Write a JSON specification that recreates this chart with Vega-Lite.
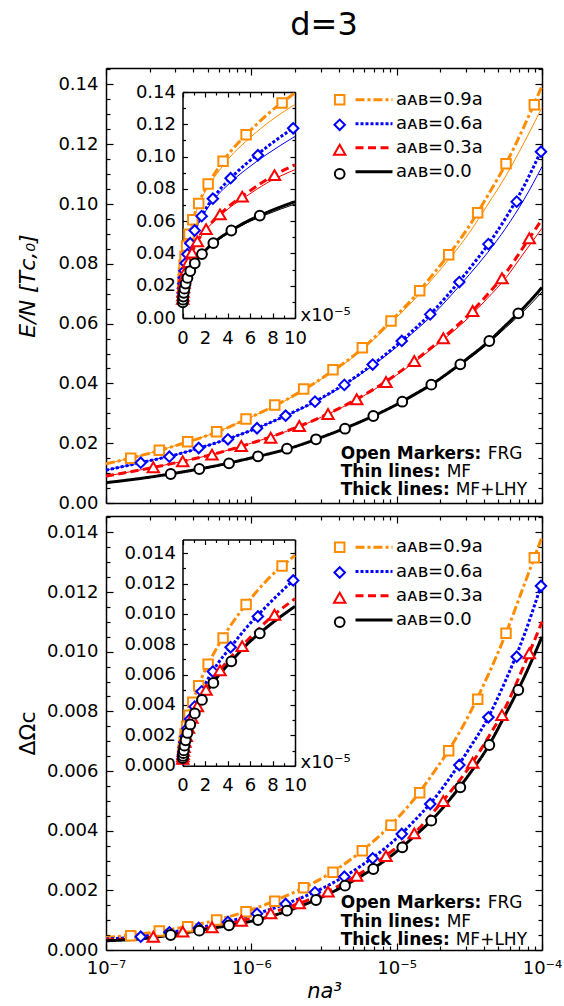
{
"$schema": "https://vega.github.io/schema/vega-lite/v6.json",
"width": 436, "height": 882,
"autosize": {"type": "none"},
"padding": {"left": 106, "top": 68, "right": 22, "bottom": 56},
"background": "white",
"title": {"text": "d=3", "fontSize": 32, "font": "DejaVu Sans", "fontWeight": "normal", "color": "black", "anchor": "middle", "frame": "group", "baseline": "alphabetic", "offset": -7},
"config": {
  "view": {"stroke": null},
  "font": "DejaVu Sans",
  "axis": {"domainColor": "black", "domainWidth": 1.5, "tickColor": "black", "tickWidth": 1.2, "labelFont": "DejaVu Sans", "labelFontSize": 18, "labelColor": "black", "grid": false, "labelFlush": false, "labelOverlap": false, "labelBound": false, "titleColor": "black", "titleFont": "DejaVu Sans", "titleFontWeight": "normal"},
  "legend": {"labelFont": "DejaVu Sans", "labelColor": "black"}
},
"resolve": {
  "scale": {"x": "independent", "y": "independent", "color": "independent", "shape": "independent", "strokeDash": "independent", "size": "independent"},
  "axis": {"x": "independent", "y": "independent"},
  "legend": {"color": "independent", "shape": "independent", "strokeDash": "independent", "size": "independent"}
},
"datasets": {
  "thickE": [
    {"x": 1e-7, "a09": 0.0131, "a06": 0.0110, "a03": 0.0090, "a00": 0.0068},
    {"x": 1.778e-7, "a09": 0.0160, "a06": 0.0136, "a03": 0.0112, "a00": 0.0083},
    {"x": 3.162e-7, "a09": 0.0195, "a06": 0.0164, "a03": 0.01367, "a00": 0.01016},
    {"x": 5.623e-7, "a09": 0.0235, "a06": 0.0200, "a03": 0.01646, "a00": 0.01238},
    {"x": 1e-6, "a09": 0.0288, "a06": 0.0243, "a03": 0.02001, "a00": 0.01508},
    {"x": 1.778e-6, "a09": 0.0348, "a06": 0.0295, "a03": 0.02416, "a00": 0.0181},
    {"x": 3.162e-6, "a09": 0.0422, "a06": 0.0356, "a03": 0.02921, "a00": 0.02229},
    {"x": 5.623e-6, "a09": 0.0511, "a06": 0.0433, "a03": 0.03541, "a00": 0.02715},
    {"x": 1e-5, "a09": 0.0628, "a06": 0.0528, "a03": 0.04312, "a00": 0.03295},
    {"x": 1.334e-5, "a09": 0.0692, "a06": 0.0583, "a03": 0.04764, "a00": 0.03636},
    {"x": 1.778e-5, "a09": 0.0765, "a06": 0.0641, "a03": 0.0524, "a00": 0.03997},
    {"x": 2.371e-5, "a09": 0.0841, "a06": 0.0709, "a03": 0.05753, "a00": 0.04423},
    {"x": 3.162e-5, "a09": 0.0927, "a06": 0.0783, "a03": 0.06317, "a00": 0.04882},
    {"x": 4.217e-5, "a09": 0.1027, "a06": 0.0862, "a03": 0.06975, "a00": 0.05371},
    {"x": 5.623e-5, "a09": 0.1133, "a06": 0.0953, "a03": 0.07693, "a00": 0.05941},
    {"x": 7.499e-5, "a09": 0.1258, "a06": 0.1059, "a03": 0.08582, "a00": 0.06536},
    {"x": 1e-4, "a09": 0.1395, "a06": 0.1185, "a03": 0.0949, "a00": 0.0721}
  ],
  "thinE": [
    {"x": 1e-7, "a09": 0.0131, "a06": 0.0110, "a03": 0.0090, "a00": 0.0068},
    {"x": 1.778e-7, "a09": 0.0160, "a06": 0.0136, "a03": 0.0112, "a00": 0.0083},
    {"x": 3.162e-7, "a09": 0.0195, "a06": 0.0164, "a03": 0.01367, "a00": 0.01016},
    {"x": 5.623e-7, "a09": 0.0235, "a06": 0.0200, "a03": 0.01646, "a00": 0.01238},
    {"x": 1e-6, "a09": 0.0288, "a06": 0.0243, "a03": 0.02001, "a00": 0.01508},
    {"x": 1.778e-6, "a09": 0.0347, "a06": 0.0294, "a03": 0.0241, "a00": 0.0181},
    {"x": 3.162e-6, "a09": 0.0420, "a06": 0.0354, "a03": 0.0291, "a00": 0.0222},
    {"x": 5.623e-6, "a09": 0.0507, "a06": 0.0430, "a03": 0.0352, "a00": 0.0270},
    {"x": 1e-5, "a09": 0.0621, "a06": 0.0522, "a03": 0.0428, "a00": 0.0328},
    {"x": 1.334e-5, "a09": 0.0682, "a06": 0.0575, "a03": 0.0472, "a00": 0.0361},
    {"x": 1.778e-5, "a09": 0.0752, "a06": 0.0630, "a03": 0.0519, "a00": 0.0397},
    {"x": 2.371e-5, "a09": 0.0824, "a06": 0.0695, "a03": 0.0568, "a00": 0.0439},
    {"x": 3.162e-5, "a09": 0.0904, "a06": 0.0764, "a03": 0.0622, "a00": 0.0483},
    {"x": 4.217e-5, "a09": 0.0997, "a06": 0.0837, "a03": 0.0685, "a00": 0.0531},
    {"x": 5.623e-5, "a09": 0.1093, "a06": 0.0919, "a03": 0.0752, "a00": 0.0586},
    {"x": 7.499e-5, "a09": 0.1204, "a06": 0.1014, "a03": 0.0836, "a00": 0.0642},
    {"x": 1e-4, "a09": 0.1323, "a06": 0.1125, "a03": 0.0919, "a00": 0.0706}
  ],
  "thickO": [
    {"x": 1e-7, "a09": 0.00042, "a06": 0.00037, "a03": 0.00034, "a00": 0.00031},
    {"x": 1.778e-7, "a09": 0.000543, "a06": 0.000454, "a03": 0.00040, "a00": 0.00038},
    {"x": 3.162e-7, "a09": 0.000735, "a06": 0.000639, "a03": 0.000591, "a00": 0.000543},
    {"x": 5.623e-7, "a09": 0.000993, "a06": 0.000850, "a03": 0.000784, "a00": 0.000743},
    {"x": 1e-6, "a09": 0.001349, "a06": 0.001163, "a03": 0.001067, "a00": 0.000965},
    {"x": 1.778e-6, "a09": 0.001837, "a06": 0.001569, "a03": 0.001429, "a00": 0.001311},
    {"x": 3.162e-6, "a09": 0.002447, "a06": 0.002095, "a03": 0.001901, "a00": 0.001808},
    {"x": 5.623e-6, "a09": 0.003279, "a06": 0.002805, "a03": 0.002573, "a00": 0.002460},
    {"x": 1e-5, "a09": 0.004396, "a06": 0.003746, "a03": 0.003438, "a00": 0.003302},
    {"x": 1.334e-5, "a09": 0.005088, "a06": 0.004351, "a03": 0.003932, "a00": 0.003831},
    {"x": 1.778e-5, "a09": 0.005920, "a06": 0.005019, "a03": 0.004611, "a00": 0.004400},
    {"x": 2.371e-5, "a09": 0.006829, "a06": 0.005836, "a03": 0.005338, "a00": 0.005101},
    {"x": 3.162e-5, "a09": 0.007907, "a06": 0.006754, "a03": 0.006131, "a00": 0.005896},
    {"x": 4.217e-5, "a09": 0.009171, "a06": 0.007753, "a03": 0.007087, "a00": 0.006785},
    {"x": 5.623e-5, "a09": 0.010591, "a06": 0.009041, "a03": 0.008152, "a00": 0.007913},
    {"x": 7.499e-5, "a09": 0.012212, "a06": 0.010527, "a03": 0.009527, "a00": 0.00912},
    {"x": 1e-4, "a09": 0.01385, "a06": 0.01232, "a03": 0.0110, "a00": 0.0105}
  ],
  "marks": [
    {"s": "a09", "x": 1.479e-7, "E": 0.01495, "O": 0.000479},
    {"s": "a09", "x": 2.328e-7, "E": 0.01763, "O": 0.000637},
    {"s": "a09", "x": 3.648e-7, "E": 0.0205, "O": 0.000781},
    {"s": "a09", "x": 5.775e-7, "E": 0.02385, "O": 0.001006},
    {"s": "a09", "x": 9.19e-7, "E": 0.0281, "O": 0.001284},
    {"s": "a09", "x": 1.449e-6, "E": 0.0328, "O": 0.001633},
    {"s": "a09", "x": 2.291e-6, "E": 0.0381, "O": 0.002089},
    {"s": "a09", "x": 3.648e-6, "E": 0.0446, "O": 0.002605},
    {"s": "a09", "x": 5.803e-6, "E": 0.0519, "O": 0.003329},
    {"s": "a09", "x": 9.141e-6, "E": 0.0609, "O": 0.004181},
    {"s": "a09", "x": 1.44e-5, "E": 0.071, "O": 0.005274},
    {"s": "a09", "x": 2.28e-5, "E": 0.083, "O": 0.006682},
    {"s": "a09", "x": 3.61e-5, "E": 0.0971, "O": 0.008405},
    {"s": "a09", "x": 5.654e-5, "E": 0.1135, "O": 0.010618},
    {"s": "a09", "x": 8.852e-5, "E": 0.1332, "O": 0.013152},
    {"s": "a06", "x": 1.734e-7, "E": 0.01348, "O": 0.000446},
    {"s": "a06", "x": 2.729e-7, "E": 0.01549, "O": 0.000593},
    {"s": "a06", "x": 4.345e-7, "E": 0.0184, "O": 0.000738},
    {"s": "a06", "x": 6.902e-7, "E": 0.0213, "O": 0.000939},
    {"s": "a06", "x": 1.094e-6, "E": 0.025, "O": 0.001217},
    {"s": "a06", "x": 1.722e-6, "E": 0.0292, "O": 0.001542},
    {"s": "a06", "x": 2.742e-6, "E": 0.0339, "O": 0.001934},
    {"s": "a06", "x": 4.365e-6, "E": 0.0395, "O": 0.002457},
    {"s": "a06", "x": 6.839e-6, "E": 0.0463, "O": 0.003074},
    {"s": "a06", "x": 1.084e-5, "E": 0.0542, "O": 0.003889},
    {"s": "a06", "x": 1.702e-5, "E": 0.0631, "O": 0.004895},
    {"s": "a06", "x": 2.698e-5, "E": 0.0739, "O": 0.006202},
    {"s": "a06", "x": 4.276e-5, "E": 0.0866, "O": 0.007801},
    {"s": "a06", "x": 6.699e-5, "E": 0.1008, "O": 0.009833},
    {"s": "a06", "x": 9.84e-5, "E": 0.1175, "O": 0.012203},
    {"s": "a03", "x": 2.116e-7, "E": 0.01194, "O": 0.000446},
    {"s": "a03", "x": 3.372e-7, "E": 0.01395, "O": 0.000614},
    {"s": "a03", "x": 5.362e-7, "E": 0.01616, "O": 0.000761},
    {"s": "a03", "x": 8.531e-7, "E": 0.01907, "O": 0.000982},
    {"s": "a03", "x": 1.359e-6, "E": 0.02184, "O": 0.00123},
    {"s": "a03", "x": 2.138e-6, "E": 0.02576, "O": 0.001566},
    {"s": "a03", "x": 3.37e-6, "E": 0.02977, "O": 0.001955},
    {"s": "a03", "x": 5.309e-6, "E": 0.03469, "O": 0.002491},
    {"s": "a03", "x": 8.445e-6, "E": 0.04047, "O": 0.003151},
    {"s": "a03", "x": 1.322e-5, "E": 0.0475, "O": 0.003912},
    {"s": "a03", "x": 2.094e-5, "E": 0.05509, "O": 0.004995},
    {"s": "a03", "x": 3.335e-5, "E": 0.06422, "O": 0.006279},
    {"s": "a03", "x": 5.305e-5, "E": 0.07516, "O": 0.007879},
    {"s": "a03", "x": 8.178e-5, "E": 0.08854, "O": 0.009947},
    {"s": "a00", "x": 2.787e-7, "E": 0.0097, "O": 0.000503},
    {"s": "a00", "x": 4.385e-7, "E": 0.01137, "O": 0.000647},
    {"s": "a00", "x": 7.019e-7, "E": 0.01328, "O": 0.000828},
    {"s": "a00", "x": 1.111e-6, "E": 0.01562, "O": 0.001006},
    {"s": "a00", "x": 1.759e-6, "E": 0.01816, "O": 0.001318},
    {"s": "a00", "x": 2.786e-6, "E": 0.02131, "O": 0.001676},
    {"s": "a00", "x": 4.41e-6, "E": 0.02485, "O": 0.002156},
    {"s": "a00", "x": 6.907e-6, "E": 0.0291, "O": 0.002716},
    {"s": "a00", "x": 1.093e-5, "E": 0.03388, "O": 0.003443},
    {"s": "a00", "x": 1.731e-5, "E": 0.03957, "O": 0.004335},
    {"s": "a00", "x": 2.741e-5, "E": 0.04639, "O": 0.005455},
    {"s": "a00", "x": 4.34e-5, "E": 0.05419, "O": 0.006873},
    {"s": "a00", "x": 6.871e-5, "E": 0.06345, "O": 0.008717}
  ]
},
"layer": [
  {
    "data": {"name": "thinE"},
    "transform": [{"fold": ["a09", "a06", "a03", "a00"], "as": ["s", "v"]}],
    "mark": {"type": "line", "strokeWidth": 1, "interpolate": "monotone"},
    "encoding": {
      "x": {"field": "x", "type": "quantitative", "scale": {"type": "log", "domain": [1e-7, 1e-4], "range": [0, 436], "nice": false},
        "axis": {"orient": "bottom", "offset": -447, "labels": false, "title": null,
          "values": [1e-7,2e-7,3e-7,4e-7,5e-7,6e-7,7e-7,8e-7,9e-7,1e-6,2e-6,3e-6,4e-6,5e-6,6e-6,7e-6,8e-6,9e-6,1e-5,2e-5,3e-5,4e-5,5e-5,6e-5,7e-5,8e-5,9e-5,1e-4],
          "tickSize": {"condition": {"test": "abs(log(datum.value)/LN10 - round(log(datum.value)/LN10)) < 0.01", "value": -7}, "value": -4}}},
      "y": {"field": "v", "type": "quantitative", "scale": {"domain": [0, 0.1455], "range": [435, 0], "nice": false, "zero": false},
        "axis": {"orient": "left", "title": "E/N  [Tᴄ,₀]", "titleFontSize": 22, "titleFontStyle": "italic", "titlePadding": 18, "labelPadding": 15,
          "values": [0,0.005,0.01,0.015,0.02,0.025,0.03,0.035,0.04,0.045,0.05,0.055,0.06,0.065,0.07,0.075,0.08,0.085,0.09,0.095,0.1,0.105,0.11,0.115,0.12,0.125,0.13,0.135,0.14,0.145],
          "labelExpr": "abs(datum.value*50 - round(datum.value*50)) < 0.01 ? format(datum.value, '.2f') : ''",
          "tickSize": {"condition": {"test": "abs(datum.value*50 - round(datum.value*50)) < 0.01", "value": -7}, "value": -4}}},
      "color": {"field": "s", "type": "nominal", "scale": {"domain": ["a09", "a06", "a03", "a00"], "range": ["#ff8c00", "#0000ff", "#ff0000", "#000000"]}, "legend": null}
    }
  },
  {
    "data": {"name": "thickE"},
    "transform": [{"fold": ["a09", "a06", "a03", "a00"], "as": ["s", "v"]}],
    "mark": {"type": "line", "strokeWidth": 3, "interpolate": "monotone"},
    "encoding": {
      "x": {"field": "x", "type": "quantitative", "scale": {"type": "log", "domain": [1e-7, 1e-4], "range": [0, 436], "nice": false},
        "axis": {"orient": "top", "offset": 0, "labels": false, "title": null,
          "values": [1e-7,2e-7,3e-7,4e-7,5e-7,6e-7,7e-7,8e-7,9e-7,1e-6,2e-6,3e-6,4e-6,5e-6,6e-6,7e-6,8e-6,9e-6,1e-5,2e-5,3e-5,4e-5,5e-5,6e-5,7e-5,8e-5,9e-5,1e-4],
          "tickSize": {"condition": {"test": "abs(log(datum.value)/LN10 - round(log(datum.value)/LN10)) < 0.01", "value": -7}, "value": -4}}},
      "y": {"field": "v", "type": "quantitative", "scale": {"domain": [0, 0.1455], "range": [435, 0], "nice": false, "zero": false},
        "axis": {"orient": "right", "offset": 0, "labels": false, "title": null,
          "values": [0,0.005,0.01,0.015,0.02,0.025,0.03,0.035,0.04,0.045,0.05,0.055,0.06,0.065,0.07,0.075,0.08,0.085,0.09,0.095,0.1,0.105,0.11,0.115,0.12,0.125,0.13,0.135,0.14,0.145],
          "tickSize": {"condition": {"test": "abs(datum.value*50 - round(datum.value*50)) < 0.01", "value": -7}, "value": -4}}},
      "color": {"field": "s", "type": "nominal", "scale": {"domain": ["a09", "a06", "a03", "a00"], "range": ["#ff8c00", "#0000ff", "#ff0000", "#000000"]},
        "legend": {"orient": "none", "legendX": 259, "legendY": 22.8, "title": null, "padding": 0, "rowPadding": 6, "symbolType": "M-3.7,0L3.7,0", "symbolSize": 100, "symbolStrokeWidth": 3, "labelFontSize": 18, "labelOffset": 13,
          "labelExpr": "datum.label == 'a09' ? 'aᴀʙ=0.9a' : datum.label == 'a06' ? 'aᴀʙ=0.6a' : datum.label == 'a03' ? 'aᴀʙ=0.3a' : 'aᴀʙ=0.0'"}},
      "strokeDash": {"field": "s", "type": "nominal", "scale": {"domain": ["a09", "a06", "a03", "a00"], "range": [[9, 3, 3, 3], [3, 2], [8, 4.5], [1, 0]]},
        "legend": {"orient": "none", "legendX": 259, "legendY": 22.8, "title": null, "padding": 0, "rowPadding": 6, "symbolType": "M-3.7,0L3.7,0", "symbolSize": 100, "symbolStrokeWidth": 3, "labelFontSize": 18, "labelOffset": 13,
          "labelExpr": "datum.label == 'a09' ? 'aᴀʙ=0.9a' : datum.label == 'a06' ? 'aᴀʙ=0.6a' : datum.label == 'a03' ? 'aᴀʙ=0.3a' : 'aᴀʙ=0.0'"}}
    }
  },
  {
    "data": {"name": "marks"},
    "mark": {"type": "point", "filled": false, "fill": "white", "strokeWidth": 2, "opacity": 1},
    "encoding": {
      "x": {"field": "x", "type": "quantitative", "scale": {"type": "log", "domain": [1e-7, 1e-4], "range": [0, 436], "nice": false}, "axis": null},
      "y": {"field": "E", "type": "quantitative", "scale": {"domain": [0, 0.1455], "range": [435, 0], "nice": false, "zero": false}, "axis": null},
      "color": {"field": "s", "type": "nominal", "scale": {"domain": ["a09", "a06", "a03", "a00"], "range": ["#ff8c00", "#0000ff", "#ff0000", "#000000"]},
        "legend": {"orient": "none", "legendX": 224.7, "legendY": 22.8, "title": null, "padding": 0, "rowPadding": 6, "symbolSize": 90, "symbolStrokeWidth": 2, "symbolFillColor": "white", "labelFontSize": 18, "labelOpacity": 0}},
      "shape": {"field": "s", "type": "nominal", "scale": {"domain": ["a09", "a06", "a03", "a00"], "range": ["square", "diamond", "triangle-up", "M0.8,0A0.8,0.8 0 1,1 -0.8,0A0.8,0.8 0 1,1 0.8,0Z"]},
        "legend": {"orient": "none", "legendX": 224.7, "legendY": 22.8, "title": null, "padding": 0, "rowPadding": 6, "symbolSize": 90, "symbolStrokeWidth": 2, "symbolFillColor": "white", "labelFontSize": 18, "labelOpacity": 0}},
      "size": {"field": "s", "type": "nominal", "scale": {"domain": ["a09", "a06", "a03", "a00"], "range": [90, 150, 130, 110]}, "legend": null}
    }
  },
  {
    "data": {"name": "thinE"},
    "transform": [{"fold": ["a09", "a06", "a03", "a00"], "as": ["s", "v"]}],
    "mark": {"type": "line", "strokeWidth": 1, "interpolate": "monotone"},
    "encoding": {
      "x": {"field": "x", "type": "quantitative", "scale": {"domain": [0, 0.0001], "range": [76.5, 189], "nice": false, "zero": false},
        "axis": {"orient": "bottom", "offset": -632, "labelPadding": 16,
          "values": [0,1e-5,2e-5,3e-5,4e-5,5e-5,6e-5,7e-5,8e-5,9e-5,1e-4],
          "labelExpr": "abs(datum.value*50000 - round(datum.value*50000)) < 0.01 ? format(datum.value*100000, '.0f') : ''",
          "tickSize": {"condition": {"test": "abs(datum.value*50000 - round(datum.value*50000)) < 0.01", "value": -5}, "value": -3},
          "title": "x10⁻⁵", "titleX": 194, "titleY": -3, "titleAlign": "left", "titleBaseline": "middle", "titleAngle": 0, "titleFontSize": 18}},
      "y": {"field": "v", "type": "quantitative", "scale": {"domain": [0, 0.14], "range": [250, 24], "nice": false, "zero": false},
        "axis": {"orient": "left", "offset": -76.5, "title": null, "labelPadding": 12,
          "values": [0,0.01,0.02,0.03,0.04,0.05,0.06,0.07,0.08,0.09,0.1,0.11,0.12,0.13,0.14],
          "labelExpr": "abs(datum.value*50 - round(datum.value*50)) < 0.01 ? format(datum.value, '.2f') : ''",
          "tickSize": {"condition": {"test": "abs(datum.value*50 - round(datum.value*50)) < 0.01", "value": -5}, "value": -3}}},
      "color": {"field": "s", "type": "nominal", "scale": {"domain": ["a09", "a06", "a03", "a00"], "range": ["#ff8c00", "#0000ff", "#ff0000", "#000000"]}, "legend": null}
    }
  },
  {
    "data": {"name": "thickE"},
    "transform": [{"fold": ["a09", "a06", "a03", "a00"], "as": ["s", "v"]}],
    "mark": {"type": "line", "strokeWidth": 3, "interpolate": "monotone"},
    "encoding": {
      "x": {"field": "x", "type": "quantitative", "scale": {"domain": [0, 0.0001], "range": [76.5, 189], "nice": false, "zero": false},
        "axis": {"orient": "top", "offset": -24, "labels": false, "title": null,
          "values": [0,1e-5,2e-5,3e-5,4e-5,5e-5,6e-5,7e-5,8e-5,9e-5,1e-4],
          "tickSize": {"condition": {"test": "abs(datum.value*50000 - round(datum.value*50000)) < 0.01", "value": -5}, "value": -3}}},
      "y": {"field": "v", "type": "quantitative", "scale": {"domain": [0, 0.14], "range": [250, 24], "nice": false, "zero": false},
        "axis": {"orient": "right", "offset": -247, "labels": false, "title": null,
          "values": [0,0.01,0.02,0.03,0.04,0.05,0.06,0.07,0.08,0.09,0.1,0.11,0.12,0.13,0.14],
          "tickSize": {"condition": {"test": "abs(datum.value*50 - round(datum.value*50)) < 0.01", "value": -5}, "value": -3}}},
      "color": {"field": "s", "type": "nominal", "scale": {"domain": ["a09", "a06", "a03", "a00"], "range": ["#ff8c00", "#0000ff", "#ff0000", "#000000"]}, "legend": null},
      "strokeDash": {"field": "s", "type": "nominal", "scale": {"domain": ["a09", "a06", "a03", "a00"], "range": [[9, 3, 3, 3], [3, 2], [8, 4.5], [1, 0]]}, "legend": null}
    }
  },
  {
    "data": {"name": "marks"},
    "mark": {"type": "point", "filled": false, "fill": "white", "strokeWidth": 2, "opacity": 1},
    "encoding": {
      "x": {"field": "x", "type": "quantitative", "scale": {"domain": [0, 0.0001], "range": [76.5, 189], "nice": false, "zero": false}, "axis": null},
      "y": {"field": "E", "type": "quantitative", "scale": {"domain": [0, 0.14], "range": [250, 24], "nice": false, "zero": false}, "axis": null},
      "color": {"field": "s", "type": "nominal", "scale": {"domain": ["a09", "a06", "a03", "a00"], "range": ["#ff8c00", "#0000ff", "#ff0000", "#000000"]}, "legend": null},
      "shape": {"field": "s", "type": "nominal", "scale": {"domain": ["a09", "a06", "a03", "a00"], "range": ["square", "diamond", "triangle-up", "M0.8,0A0.8,0.8 0 1,1 -0.8,0A0.8,0.8 0 1,1 0.8,0Z"]}, "legend": null},
      "size": {"field": "s", "type": "nominal", "scale": {"domain": ["a09", "a06", "a03", "a00"], "range": [90, 150, 130, 110]}, "legend": null}
    }
  },
  {
    "data": {"values": [{"t": "Open Markers:"}]},
    "mark": {"type": "text", "fontSize": 17, "fontWeight": "bold", "align": "left", "baseline": "middle", "color": "black"},
    "encoding": {"text": {"field": "t"},
      "x": {"datum": 4.12e-6, "type": "quantitative", "scale": {"type": "log", "domain": [1e-7, 1e-4], "range": [0, 436], "nice": false}, "axis": null},
      "y": {"datum": 0.01639, "type": "quantitative", "scale": {"domain": [0, 0.1455], "range": [435, 0], "nice": false, "zero": false}, "axis": null}}
  },
  {
    "data": {"values": [{"t": "Thin lines:"}]},
    "mark": {"type": "text", "fontSize": 17, "fontWeight": "bold", "align": "left", "baseline": "middle", "color": "black"},
    "encoding": {"text": {"field": "t"},
      "x": {"datum": 4.12e-6, "type": "quantitative", "scale": {"type": "log", "domain": [1e-7, 1e-4], "range": [0, 436], "nice": false}, "axis": null},
      "y": {"datum": 0.01037, "type": "quantitative", "scale": {"domain": [0, 0.1455], "range": [435, 0], "nice": false, "zero": false}, "axis": null}}
  },
  {
    "data": {"values": [{"t": "Thick lines:"}]},
    "mark": {"type": "text", "fontSize": 17, "fontWeight": "bold", "align": "left", "baseline": "middle", "color": "black"},
    "encoding": {"text": {"field": "t"},
      "x": {"datum": 4.12e-6, "type": "quantitative", "scale": {"type": "log", "domain": [1e-7, 1e-4], "range": [0, 436], "nice": false}, "axis": null},
      "y": {"datum": 0.00435, "type": "quantitative", "scale": {"domain": [0, 0.1455], "range": [435, 0], "nice": false, "zero": false}, "axis": null}}
  },
  {
    "data": {"values": [{"t": "FRG"}]},
    "mark": {"type": "text", "fontSize": 17, "align": "left", "baseline": "middle", "color": "black", "dx": 147},
    "encoding": {"text": {"field": "t"},
      "x": {"datum": 4.12e-6, "type": "quantitative", "scale": {"type": "log", "domain": [1e-7, 1e-4], "range": [0, 436], "nice": false}, "axis": null},
      "y": {"datum": 0.01639, "type": "quantitative", "scale": {"domain": [0, 0.1455], "range": [435, 0], "nice": false, "zero": false}, "axis": null}}
  },
  {
    "data": {"values": [{"t": "MF"}]},
    "mark": {"type": "text", "fontSize": 17, "align": "left", "baseline": "middle", "color": "black", "dx": 106},
    "encoding": {"text": {"field": "t"},
      "x": {"datum": 4.12e-6, "type": "quantitative", "scale": {"type": "log", "domain": [1e-7, 1e-4], "range": [0, 436], "nice": false}, "axis": null},
      "y": {"datum": 0.01037, "type": "quantitative", "scale": {"domain": [0, 0.1455], "range": [435, 0], "nice": false, "zero": false}, "axis": null}}
  },
  {
    "data": {"values": [{"t": "MF+LHY"}]},
    "mark": {"type": "text", "fontSize": 17, "align": "left", "baseline": "middle", "color": "black", "dx": 115},
    "encoding": {"text": {"field": "t"},
      "x": {"datum": 4.12e-6, "type": "quantitative", "scale": {"type": "log", "domain": [1e-7, 1e-4], "range": [0, 436], "nice": false}, "axis": null},
      "y": {"datum": 0.00435, "type": "quantitative", "scale": {"domain": [0, 0.1455], "range": [435, 0], "nice": false, "zero": false}, "axis": null}}
  },
  {
    "data": {"name": "thickO"},
    "transform": [{"fold": ["a09", "a06", "a03", "a00"], "as": ["s", "v"]}],
    "mark": {"type": "line", "strokeWidth": 3, "interpolate": "monotone"},
    "encoding": {
      "x": {"field": "x", "type": "quantitative", "scale": {"type": "log", "domain": [1e-7, 1e-4], "range": [0, 436], "nice": false},
        "axis": {"orient": "bottom", "offset": 0, "labelPadding": 16, "title": "na³", "titleFontSize": 21, "titleFontStyle": "italic", "titlePadding": 0,
          "values": [1e-7,2e-7,3e-7,4e-7,5e-7,6e-7,7e-7,8e-7,9e-7,1e-6,2e-6,3e-6,4e-6,5e-6,6e-6,7e-6,8e-6,9e-6,1e-5,2e-5,3e-5,4e-5,5e-5,6e-5,7e-5,8e-5,9e-5,1e-4],
          "labelExpr": "abs(log(datum.value)/LN10 - round(log(datum.value)/LN10)) < 0.01 ? (datum.value < 5e-7 ? '10⁻⁷' : datum.value < 5e-6 ? '10⁻⁶' : datum.value < 5e-5 ? '10⁻⁵' : '10⁻⁴') : ''",
          "tickSize": {"condition": {"test": "abs(log(datum.value)/LN10 - round(log(datum.value)/LN10)) < 0.01", "value": -7}, "value": -4}}},
      "y": {"field": "v", "type": "quantitative", "scale": {"domain": [0, 0.01455], "range": [882, 448], "nice": false, "zero": false},
        "axis": {"orient": "left", "title": "ΔΩᴄ", "titleFontSize": 22, "titlePadding": 7, "labelPadding": 15,
          "values": [0,0.0005,0.001,0.0015,0.002,0.0025,0.003,0.0035,0.004,0.0045,0.005,0.0055,0.006,0.0065,0.007,0.0075,0.008,0.0085,0.009,0.0095,0.01,0.0105,0.011,0.0115,0.012,0.0125,0.013,0.0135,0.014,0.0145],
          "labelExpr": "abs(datum.value*500 - round(datum.value*500)) < 0.01 ? format(datum.value, '.3f') : ''",
          "tickSize": {"condition": {"test": "abs(datum.value*500 - round(datum.value*500)) < 0.01", "value": -7}, "value": -4}}},
      "color": {"field": "s", "type": "nominal", "scale": {"domain": ["a09", "a06", "a03", "a00"], "range": ["#ff8c00", "#0000ff", "#ff0000", "#000000"]},
        "legend": {"orient": "none", "legendX": 259, "legendY": 470.2, "title": null, "padding": 0, "rowPadding": 6.3, "symbolType": "M-3.7,0L3.7,0", "symbolSize": 100, "symbolStrokeWidth": 3, "labelFontSize": 18, "labelOffset": 13,
          "labelExpr": "datum.label == 'a09' ? 'aᴀʙ=0.9a' : datum.label == 'a06' ? 'aᴀʙ=0.6a' : datum.label == 'a03' ? 'aᴀʙ=0.3a' : 'aᴀʙ=0.0'"}},
      "strokeDash": {"field": "s", "type": "nominal", "scale": {"domain": ["a09", "a06", "a03", "a00"], "range": [[9, 3, 3, 3], [3, 2], [8, 4.5], [1, 0]]},
        "legend": {"orient": "none", "legendX": 259, "legendY": 470.2, "title": null, "padding": 0, "rowPadding": 6.3, "symbolType": "M-3.7,0L3.7,0", "symbolSize": 100, "symbolStrokeWidth": 3, "labelFontSize": 18, "labelOffset": 13,
          "labelExpr": "datum.label == 'a09' ? 'aᴀʙ=0.9a' : datum.label == 'a06' ? 'aᴀʙ=0.6a' : datum.label == 'a03' ? 'aᴀʙ=0.3a' : 'aᴀʙ=0.0'"}}
    }
  },
  {
    "data": {"name": "marks"},
    "mark": {"type": "point", "filled": false, "fill": "white", "strokeWidth": 2, "opacity": 1},
    "encoding": {
      "x": {"field": "x", "type": "quantitative", "scale": {"type": "log", "domain": [1e-7, 1e-4], "range": [0, 436], "nice": false},
        "axis": {"orient": "top", "offset": -448, "labels": false, "title": null,
          "values": [1e-7,2e-7,3e-7,4e-7,5e-7,6e-7,7e-7,8e-7,9e-7,1e-6,2e-6,3e-6,4e-6,5e-6,6e-6,7e-6,8e-6,9e-6,1e-5,2e-5,3e-5,4e-5,5e-5,6e-5,7e-5,8e-5,9e-5,1e-4],
          "tickSize": {"condition": {"test": "abs(log(datum.value)/LN10 - round(log(datum.value)/LN10)) < 0.01", "value": -7}, "value": -4}}},
      "y": {"field": "O", "type": "quantitative", "scale": {"domain": [0, 0.01455], "range": [882, 448], "nice": false, "zero": false},
        "axis": {"orient": "right", "offset": 0, "labels": false, "title": null,
          "values": [0,0.0005,0.001,0.0015,0.002,0.0025,0.003,0.0035,0.004,0.0045,0.005,0.0055,0.006,0.0065,0.007,0.0075,0.008,0.0085,0.009,0.0095,0.01,0.0105,0.011,0.0115,0.012,0.0125,0.013,0.0135,0.014,0.0145],
          "tickSize": {"condition": {"test": "abs(datum.value*500 - round(datum.value*500)) < 0.01", "value": -7}, "value": -4}}},
      "color": {"field": "s", "type": "nominal", "scale": {"domain": ["a09", "a06", "a03", "a00"], "range": ["#ff8c00", "#0000ff", "#ff0000", "#000000"]},
        "legend": {"orient": "none", "legendX": 224.7, "legendY": 470.2, "title": null, "padding": 0, "rowPadding": 6.3, "symbolSize": 90, "symbolStrokeWidth": 2, "symbolFillColor": "white", "labelFontSize": 18, "labelOpacity": 0}},
      "shape": {"field": "s", "type": "nominal", "scale": {"domain": ["a09", "a06", "a03", "a00"], "range": ["square", "diamond", "triangle-up", "M0.8,0A0.8,0.8 0 1,1 -0.8,0A0.8,0.8 0 1,1 0.8,0Z"]},
        "legend": {"orient": "none", "legendX": 224.7, "legendY": 470.2, "title": null, "padding": 0, "rowPadding": 6.3, "symbolSize": 90, "symbolStrokeWidth": 2, "symbolFillColor": "white", "labelFontSize": 18, "labelOpacity": 0}},
      "size": {"field": "s", "type": "nominal", "scale": {"domain": ["a09", "a06", "a03", "a00"], "range": [90, 150, 130, 110]}, "legend": null}
    }
  },
  {
    "data": {"name": "thickO"},
    "transform": [{"fold": ["a09", "a06", "a03", "a00"], "as": ["s", "v"]}],
    "mark": {"type": "line", "strokeWidth": 3, "interpolate": "monotone"},
    "encoding": {
      "x": {"field": "x", "type": "quantitative", "scale": {"domain": [0, 0.0001], "range": [76.5, 189], "nice": false, "zero": false},
        "axis": {"orient": "bottom", "offset": -184.3, "labelPadding": 16,
          "values": [0,1e-5,2e-5,3e-5,4e-5,5e-5,6e-5,7e-5,8e-5,9e-5,1e-4],
          "labelExpr": "abs(datum.value*50000 - round(datum.value*50000)) < 0.01 ? format(datum.value*100000, '.0f') : ''",
          "tickSize": {"condition": {"test": "abs(datum.value*50000 - round(datum.value*50000)) < 0.01", "value": -5}, "value": -3},
          "title": "x10⁻⁵", "titleX": 194, "titleY": -3, "titleAlign": "left", "titleBaseline": "middle", "titleAngle": 0, "titleFontSize": 18}},
      "y": {"field": "v", "type": "quantitative", "scale": {"domain": [0, 0.0149], "range": [697.7, 471.5], "nice": false, "zero": false},
        "axis": {"orient": "left", "offset": -76.5, "title": null, "labelPadding": 12,
          "values": [0,0.001,0.002,0.003,0.004,0.005,0.006,0.007,0.008,0.009,0.01,0.011,0.012,0.013,0.014],
          "labelExpr": "abs(datum.value*500 - round(datum.value*500)) < 0.01 ? format(datum.value, '.3f') : ''",
          "tickSize": {"condition": {"test": "abs(datum.value*500 - round(datum.value*500)) < 0.01", "value": -5}, "value": -3}}},
      "color": {"field": "s", "type": "nominal", "scale": {"domain": ["a09", "a06", "a03", "a00"], "range": ["#ff8c00", "#0000ff", "#ff0000", "#000000"]}, "legend": null},
      "strokeDash": {"field": "s", "type": "nominal", "scale": {"domain": ["a09", "a06", "a03", "a00"], "range": [[9, 3, 3, 3], [3, 2], [8, 4.5], [1, 0]]}, "legend": null}
    }
  },
  {
    "data": {"name": "marks"},
    "mark": {"type": "point", "filled": false, "fill": "white", "strokeWidth": 2, "opacity": 1},
    "encoding": {
      "x": {"field": "x", "type": "quantitative", "scale": {"domain": [0, 0.0001], "range": [76.5, 189], "nice": false, "zero": false},
        "axis": {"orient": "top", "offset": -471.5, "labels": false, "title": null,
          "values": [0,1e-5,2e-5,3e-5,4e-5,5e-5,6e-5,7e-5,8e-5,9e-5,1e-4],
          "tickSize": {"condition": {"test": "abs(datum.value*50000 - round(datum.value*50000)) < 0.01", "value": -5}, "value": -3}}},
      "y": {"field": "O", "type": "quantitative", "scale": {"domain": [0, 0.0149], "range": [697.7, 471.5], "nice": false, "zero": false},
        "axis": {"orient": "right", "offset": -247, "labels": false, "title": null,
          "values": [0,0.001,0.002,0.003,0.004,0.005,0.006,0.007,0.008,0.009,0.01,0.011,0.012,0.013,0.014],
          "tickSize": {"condition": {"test": "abs(datum.value*500 - round(datum.value*500)) < 0.01", "value": -5}, "value": -3}}},
      "color": {"field": "s", "type": "nominal", "scale": {"domain": ["a09", "a06", "a03", "a00"], "range": ["#ff8c00", "#0000ff", "#ff0000", "#000000"]}, "legend": null},
      "shape": {"field": "s", "type": "nominal", "scale": {"domain": ["a09", "a06", "a03", "a00"], "range": ["square", "diamond", "triangle-up", "M0.8,0A0.8,0.8 0 1,1 -0.8,0A0.8,0.8 0 1,1 0.8,0Z"]}, "legend": null},
      "size": {"field": "s", "type": "nominal", "scale": {"domain": ["a09", "a06", "a03", "a00"], "range": [90, 150, 130, 110]}, "legend": null}
    }
  },
  {
    "data": {"values": [{"t": "Open Markers:"}]},
    "mark": {"type": "text", "fontSize": 17, "fontWeight": "bold", "align": "left", "baseline": "middle", "color": "black"},
    "encoding": {"text": {"field": "t"},
      "x": {"datum": 4.12e-6, "type": "quantitative", "scale": {"type": "log", "domain": [1e-7, 1e-4], "range": [0, 436], "nice": false}, "axis": null},
      "y": {"datum": 0.001559, "type": "quantitative", "scale": {"domain": [0, 0.01455], "range": [882, 448], "nice": false, "zero": false}, "axis": null}}
  },
  {
    "data": {"values": [{"t": "Thin lines:"}]},
    "mark": {"type": "text", "fontSize": 17, "fontWeight": "bold", "align": "left", "baseline": "middle", "color": "black"},
    "encoding": {"text": {"field": "t"},
      "x": {"datum": 4.12e-6, "type": "quantitative", "scale": {"type": "log", "domain": [1e-7, 1e-4], "range": [0, 436], "nice": false}, "axis": null},
      "y": {"datum": 0.000955, "type": "quantitative", "scale": {"domain": [0, 0.01455], "range": [882, 448], "nice": false, "zero": false}, "axis": null}}
  },
  {
    "data": {"values": [{"t": "Thick lines:"}]},
    "mark": {"type": "text", "fontSize": 17, "fontWeight": "bold", "align": "left", "baseline": "middle", "color": "black"},
    "encoding": {"text": {"field": "t"},
      "x": {"datum": 4.12e-6, "type": "quantitative", "scale": {"type": "log", "domain": [1e-7, 1e-4], "range": [0, 436], "nice": false}, "axis": null},
      "y": {"datum": 0.000352, "type": "quantitative", "scale": {"domain": [0, 0.01455], "range": [882, 448], "nice": false, "zero": false}, "axis": null}}
  },
  {
    "data": {"values": [{"t": "FRG"}]},
    "mark": {"type": "text", "fontSize": 17, "align": "left", "baseline": "middle", "color": "black", "dx": 147},
    "encoding": {"text": {"field": "t"},
      "x": {"datum": 4.12e-6, "type": "quantitative", "scale": {"type": "log", "domain": [1e-7, 1e-4], "range": [0, 436], "nice": false}, "axis": null},
      "y": {"datum": 0.001559, "type": "quantitative", "scale": {"domain": [0, 0.01455], "range": [882, 448], "nice": false, "zero": false}, "axis": null}}
  },
  {
    "data": {"values": [{"t": "MF"}]},
    "mark": {"type": "text", "fontSize": 17, "align": "left", "baseline": "middle", "color": "black", "dx": 106},
    "encoding": {"text": {"field": "t"},
      "x": {"datum": 4.12e-6, "type": "quantitative", "scale": {"type": "log", "domain": [1e-7, 1e-4], "range": [0, 436], "nice": false}, "axis": null},
      "y": {"datum": 0.000955, "type": "quantitative", "scale": {"domain": [0, 0.01455], "range": [882, 448], "nice": false, "zero": false}, "axis": null}}
  },
  {
    "data": {"values": [{"t": "MF+LHY"}]},
    "mark": {"type": "text", "fontSize": 17, "align": "left", "baseline": "middle", "color": "black", "dx": 115},
    "encoding": {"text": {"field": "t"},
      "x": {"datum": 4.12e-6, "type": "quantitative", "scale": {"type": "log", "domain": [1e-7, 1e-4], "range": [0, 436], "nice": false}, "axis": null},
      "y": {"datum": 0.000352, "type": "quantitative", "scale": {"domain": [0, 0.01455], "range": [882, 448], "nice": false, "zero": false}, "axis": null}}
  }
]
}
